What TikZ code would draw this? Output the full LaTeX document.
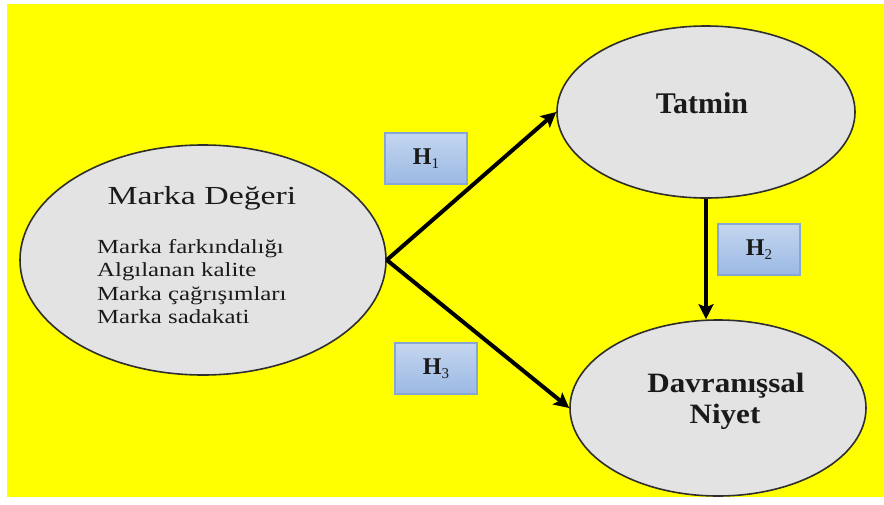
\documentclass[tikz,border=0pt]{standalone}
\usepackage{fontspec}
\setmainfont{Liberation Serif}
\usetikzlibrary{shapes.geometric,arrows.meta}
\definecolor{bgyellow}{HTML}{FFFF00}
\definecolor{ellfill}{HTML}{E3E3E3}
\definecolor{elldraw}{HTML}{2E2E2E}
\definecolor{boxtop}{HTML}{C4D6EF}
\definecolor{boxbot}{HTML}{9BB9E4}
\definecolor{boxdraw}{HTML}{88A6D4}
\definecolor{txt}{HTML}{1A1A1A}
\tikzset{
  oval/.style={ellipse, draw=elldraw, line width=1.6pt, fill=ellfill, inner sep=0pt},
  hbox/.style={rectangle, draw=boxdraw, line width=1.2pt, top color=boxtop, bottom color=boxbot,
    minimum width=82pt, minimum height=51pt, inner sep=0pt, text=txt, font=\fontsize{24}{26}\selectfont},
  link/.style={line width=4pt, -{Stealth[length=15pt,width=15pt,inset=3pt]}},
  lbl/.style={inner sep=0pt, anchor=base, text=txt},
  item/.style={lbl, anchor=base west, font=\fontsize{20}{24}\selectfont},
}
\begin{document}
\begin{tikzpicture}[x=1pt,y=-1pt]
\useasboundingbox (0,0) rectangle (884,504);
\fill[white] (0,0) rectangle (884,504);
\fill[bgyellow] (7,4) rectangle (884,497);
% ellipses
\node[oval, minimum width=366pt, minimum height=230pt] (md) at (203,260) {};
\node[oval, minimum width=298pt, minimum height=172pt] (t) at (706,112) {};
\node[oval, minimum width=296pt, minimum height=176pt] (d) at (718,408) {};
% texts
\node[lbl] (mdt) at (202,204) {\fontsize{26}{30}\selectfont\scalebox{1.3}[1]{Marka Değeri}};
\node[item] (i1) at (97,253) {\scalebox{1.24}[1]{Marka farkındalığı}};
\node[item] (i2) at (97,276.5) {\scalebox{1.24}[1]{Algılanan kalite}};
\node[item] (i3) at (97,300) {\scalebox{1.24}[1]{Marka çağrışımları}};
\node[item] (i4) at (97,323) {\scalebox{1.24}[1]{Marka sadakati}};
\node[lbl] (tt) at (702,113) {\fontsize{30}{34}\selectfont\bfseries Tatmin};
\node[lbl] (dt1) at (726,392) {\fontsize{28}{32}\selectfont\bfseries\scalebox{1.11}[1]{Davranışsal}};
\node[lbl] (dt2) at (725,423) {\fontsize{28}{32}\selectfont\bfseries\scalebox{1.11}[1]{Niyet}};
% arrows
\draw[link] (md.east) -- (t.west);
\draw[link] (md.east) -- (d.west);
\draw[link] (t.south) -- (t.south |- d.north);
% hypothesis boxes
\node[hbox] (h1) at (426,158.5) {\textbf{H}\raisebox{-4pt}{\fontsize{15}{16}\selectfont 1}};
\node[hbox] (h2) at (759,249.5) {\textbf{H}\raisebox{-4pt}{\fontsize{15}{16}\selectfont 2}};
\node[hbox] (h3) at (436,368.5) {\textbf{H}\raisebox{-4pt}{\fontsize{15}{16}\selectfont 3}};
\end{tikzpicture}
\end{document}
